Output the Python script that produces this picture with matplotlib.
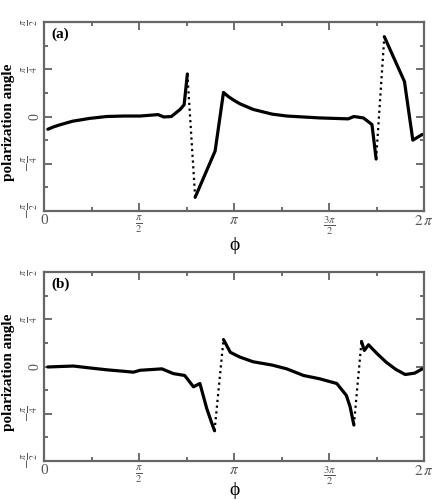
import numpy as np
import matplotlib
matplotlib.use('Agg')
from matplotlib import pyplot as plt
from matplotlib.ticker import MultipleLocator

plt.rcParams['font.family'] = ['Liberation Serif', 'DejaVu Serif']
plt.rcParams['mathtext.fontset'] = 'stix'

# phi in units of pi, angle in units of pi/4
# panel (a): solid pieces and the jumps between them (drawn dotted)
a_phi_1 = [0.02, 0.05, 0.08, 0.15, 0.24, 0.33, 0.42, 0.505, 0.60, 0.63, 0.67, 0.716, 0.737, 0.754]
a_ang_1 = [-0.27, -0.22, -0.18, -0.10, -0.04, 0.00, 0.01, 0.01, 0.04, -0.01, 0.00, 0.15, 0.25, 0.90]
a_phi_2 = [0.795, 0.90, 0.944, 0.97, 1.0, 1.03, 1.10, 1.20, 1.277, 1.45, 1.60, 1.63, 1.68, 1.725, 1.747]
a_ang_2 = [-1.71, -0.73, 0.51, 0.42, 0.34, 0.27, 0.15, 0.05, 0.01, -0.03, -0.05, 0.00, -0.03, -0.17, -0.90]
a_phi_3 = [1.79, 1.896, 1.94, 1.99]
a_ang_3 = [1.69, 0.74, -0.50, -0.38]

# panel (b)
b_phi_1 = [0.02, 0.154, 0.24, 0.33, 0.417, 0.47, 0.505, 0.62, 0.68, 0.74, 0.786, 0.82, 0.856, 0.88, 0.897]
b_ang_1 = [-0.01, 0.01, -0.03, -0.07, -0.10, -0.12, -0.08, -0.05, -0.15, -0.19, -0.43, -0.36, -0.89, -1.17, -1.36]
b_phi_2 = [0.944, 0.96, 0.98, 1.03, 1.10, 1.20, 1.277, 1.365, 1.45, 1.54, 1.59, 1.61, 1.63]
b_ang_2 = [0.57, 0.45, 0.30, 0.20, 0.10, 0.03, -0.05, -0.19, -0.26, -0.36, -0.61, -0.85, -1.24]
b_phi_3 = [1.67, 1.685, 1.707, 1.75, 1.80, 1.85, 1.90, 1.95, 1.99]
b_ang_3 = [0.53, 0.34, 0.46, 0.28, 0.09, -0.06, -0.17, -0.14, -0.05]

x_tick_pos = [0, 0.5, 1, 1.5, 2]
x_tick_lab = ['0', r'$\frac{\pi}{2}$', r'$\pi$', r'$\frac{3\pi}{2}$', r'$2\,\pi$']
y_tick_pos = [-2, -1, 0, 1, 2]
y_tick_lab = [r'$-\frac{\pi}{2}$', r'$-\frac{\pi}{4}$', '0', r'$\frac{\pi}{4}$', r'$\frac{\pi}{2}$']


def draw_panel(ax, pieces, label, xlab_y):
    for i, (p, a) in enumerate(pieces):
        ax.plot(p, a, color='black', lw=2.3, solid_capstyle='round', solid_joinstyle='round')
        if i + 1 < len(pieces):
            nxt = pieces[i + 1]
            ax.plot([p[-1], nxt[0][0]], [a[-1], nxt[1][0]], color='black',
                    lw=1.6, linestyle=(0, (1, 1.6)))
    ax.set_xlim(0, 2)
    ax.set_ylim(-2, 2)
    ax.set_xticks(x_tick_pos)
    ax.set_xticklabels(x_tick_lab, fontsize=11, color='#555555')
    ax.set_yticks(y_tick_pos)
    ax.set_yticklabels(y_tick_lab, fontsize=10, color='#555555', rotation=90, va='center')
    ax.xaxis.set_minor_locator(MultipleLocator(0.25))
    ax.yaxis.set_minor_locator(MultipleLocator(0.5))
    ax.tick_params(which='both', direction='in', top=True, right=True, color='#555555', width=1.2)
    ax.tick_params(which='major', length=6, pad=2)
    ax.tick_params(which='minor', length=3)
    for s in ax.spines.values():
        s.set_color('#666666')
        s.set_linewidth(1.6)
    ax.text(0.02, 0.97, label, transform=ax.transAxes, fontsize=11, fontweight='bold',
            va='top', ha='left')
    ax.set_ylabel('polarization angle', fontsize=11, fontweight='bold')
    ax.yaxis.set_label_coords(-0.077, 0.47)
    ax.set_xlabel('ϕ', fontsize=14)
    ax.xaxis.set_label_coords(0.5, xlab_y)


fig = plt.figure(figsize=(4.36, 5.0), dpi=100)
ax_a = fig.add_axes([0.101, 0.578, 0.872, 0.378])
ax_b = fig.add_axes([0.101, 0.078, 0.872, 0.378])

draw_panel(ax_a, [(a_phi_1, a_ang_1), (a_phi_2, a_ang_2), (a_phi_3, a_ang_3)], '(a)', -0.14)
draw_panel(ax_b, [(b_phi_1, b_ang_1), (b_phi_2, b_ang_2), (b_phi_3, b_ang_3)], '(b)', -0.11)

plt.savefig('out.png', dpi=100)
